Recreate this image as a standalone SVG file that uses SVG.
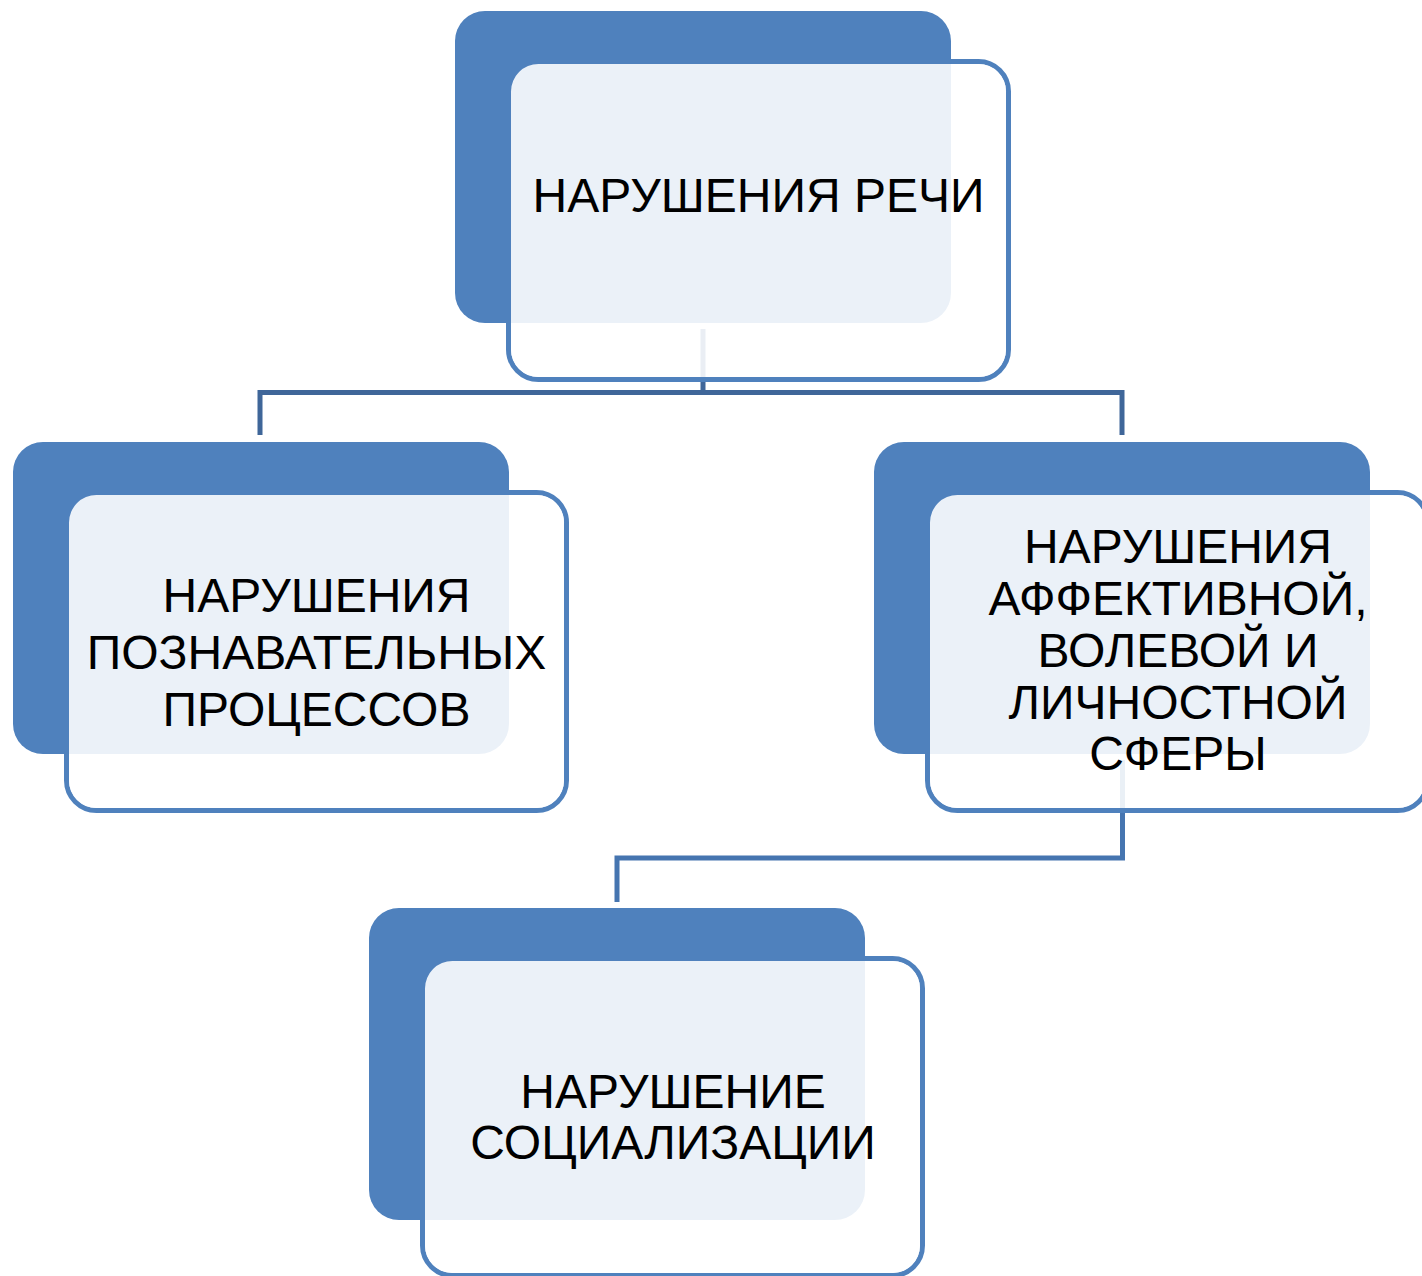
<svg xmlns="http://www.w3.org/2000/svg" width="1422" height="1276" viewBox="0 0 1422 1276">
  <style>
    .outline { fill: none; stroke: #4F81BD; stroke-width: 5; }
    .back { fill: #4F81BD; }
    .face { fill: #FFFFFF; fill-opacity: 0.89; }
    .label { font-family: "Liberation Sans", Arial, sans-serif; font-size: 48px; fill: #000000; text-anchor: middle; }
    .conn { fill: none; stroke-width: 5; stroke-linejoin: miter; }
  </style>
  <rect x="0" y="0" width="1422" height="1276" fill="#FFFFFF"/>
  <g id="connectors">
    <path class="conn" stroke="#3F6699" d="M703,329 V392.5 M260,435 V392.5 H1122 V435"/>
    <path class="conn" stroke="#4675B0" d="M1122.5,760 V858 H617 V902"/>
  </g>
  <g id="node-top" transform="translate(455,11)">
    <rect class="outline" x="53.5" y="50.5" width="500" height="318" rx="30"/>
    <rect class="back" x="0" y="0" width="496" height="312" rx="30"/>
    <rect class="face" x="56" y="53" width="495" height="313" rx="27.5"/>
    <text class="label" x="303.5" y="201">НАРУШЕНИЯ РЕЧИ</text>
  </g>
  <g id="node-left" transform="translate(13,442)">
    <rect class="outline" x="53.5" y="50.5" width="500" height="318" rx="30"/>
    <rect class="back" x="0" y="0" width="496" height="312" rx="30"/>
    <rect class="face" x="56" y="53" width="495" height="313" rx="27.5"/>
    <text class="label" x="303.5" y="170">НАРУШЕНИЯ</text>
    <text class="label" x="303.5" y="226.5">ПОЗНАВАТЕЛЬНЫХ</text>
    <text class="label" x="303.5" y="283.5">ПРОЦЕССОВ</text>
  </g>
  <g id="node-right" transform="translate(874,442)">
    <rect class="outline" x="53.5" y="50.5" width="500" height="318" rx="30"/>
    <rect class="back" x="0" y="0" width="496" height="312" rx="30"/>
    <rect class="face" x="56" y="53" width="495" height="313" rx="27.5"/>
    <text class="label" x="304" y="121">НАРУШЕНИЯ</text>
    <text class="label" x="304" y="173">АФФЕКТИВНОЙ,</text>
    <text class="label" x="304" y="225">ВОЛЕВОЙ И</text>
    <text class="label" x="304" y="276.5">ЛИЧНОСТНОЙ</text>
    <text class="label" x="304" y="328">СФЕРЫ</text>
  </g>
  <g id="node-bottom" transform="translate(369,908)">
    <rect class="outline" x="53.5" y="50.5" width="500" height="317" rx="30"/>
    <rect class="back" x="0" y="0" width="496" height="312" rx="30"/>
    <rect class="face" x="56" y="53" width="495" height="312" rx="27.5"/>
    <text class="label" x="304" y="199.7">НАРУШЕНИЕ</text>
    <text class="label" x="304" y="251.3">СОЦИАЛИЗАЦИИ</text>
  </g>
</svg>
